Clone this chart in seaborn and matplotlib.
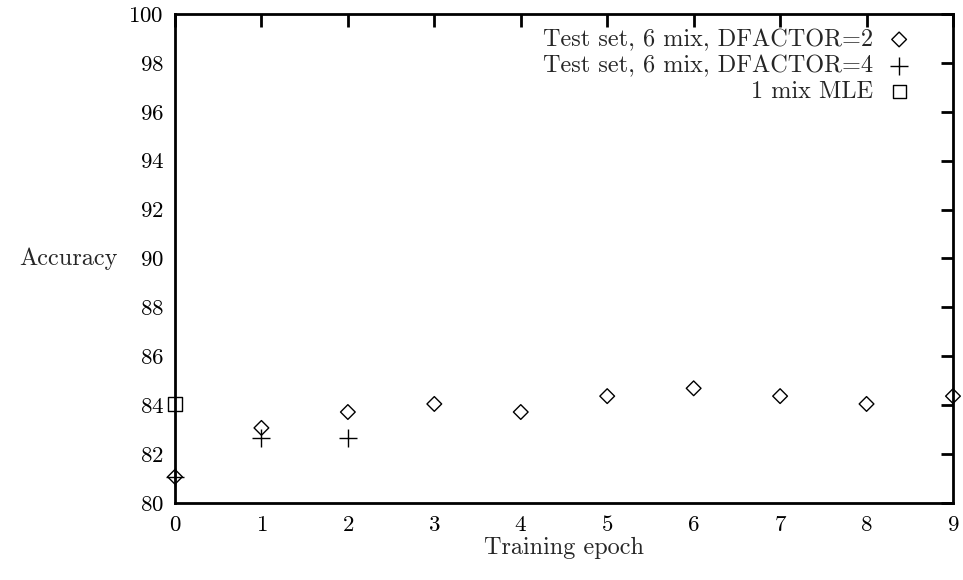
import matplotlib
matplotlib.use("Agg")
import matplotlib.pyplot as plt
import seaborn as sns
import pandas as pd

# Accuracy per training epoch
epochs_d2 = [0, 1, 2, 3, 4, 5, 6, 7, 8, 9]
acc_d2 = [81.07, 83.07, 83.72, 84.05, 83.72, 84.37, 84.69, 84.37, 84.05, 84.37]
epochs_d4 = [0, 1, 2]
acc_d4 = [81.07, 82.64, 82.64]
epochs_mle = [0]
acc_mle = [84.05]

labels = ["Test set, 6 mix, DFACTOR=2", "Test set, 6 mix, DFACTOR=4", "1 mix MLE"]
x_ticks = list(range(10))
y_ticks = list(range(80, 101, 2))

sns.set_theme(style="white")
plt.rcParams["font.family"] = ["cmr10", "DejaVu Serif"]
plt.rcParams["axes.formatter.use_mathtext"] = True
plt.rcParams["mathtext.fontset"] = "cm"

fig = plt.figure(figsize=(9.63, 5.80), dpi=100)
ax = fig.add_axes([0.1817, 0.1328, 0.8079, 0.8431])

d2 = pd.DataFrame({"epoch": epochs_d2, "acc": acc_d2})
d4 = pd.DataFrame({"epoch": epochs_d4, "acc": acc_d4})
mle = pd.DataFrame({"epoch": epochs_mle, "acc": acc_mle})

sns.scatterplot(data=d2, x="epoch", y="acc", marker="D", s=56, facecolor="none",
                edgecolor="black", linewidth=1.0, label=labels[0], ax=ax, clip_on=False, zorder=5)
sns.scatterplot(data=d4, x="epoch", y="acc", marker="+", s=150, color="black",
                linewidth=1.0, label=labels[1], ax=ax, clip_on=False, zorder=5)
sns.scatterplot(data=mle, x="epoch", y="acc", marker="s", s=90, facecolor="none",
                edgecolor="black", linewidth=1.0, label=labels[2], ax=ax, clip_on=False, zorder=5)

ax.set_xlim(0, 9)
ax.set_ylim(80, 100)
ax.set_xticks(x_ticks)
ax.set_yticks(y_ticks)
ax.tick_params(direction="in", length=9, width=2, top=True, right=True,
               labelsize=16.5, pad=8, colors="black")
ax.tick_params(axis="x", pad=9)
for sp in ax.spines.values():
    sp.set_linewidth(2)
    sp.set_color("black")

ax.set_xlabel("Training epoch", fontsize=17.5, labelpad=1)
ax.set_ylabel("Accuracy", fontsize=17.5, rotation=0, ha="right", va="center", labelpad=8)

leg = ax.legend(loc="upper right", frameon=False, markerfirst=False, fontsize=17.5,
                handletextpad=0.45, labelspacing=0.16, borderaxespad=0.0,
                handlelength=1.2, bbox_to_anchor=(0.962, 0.99))
for t in leg.get_texts():
    t.set_ha("right")

fig.savefig("out.png", dpi=100)
